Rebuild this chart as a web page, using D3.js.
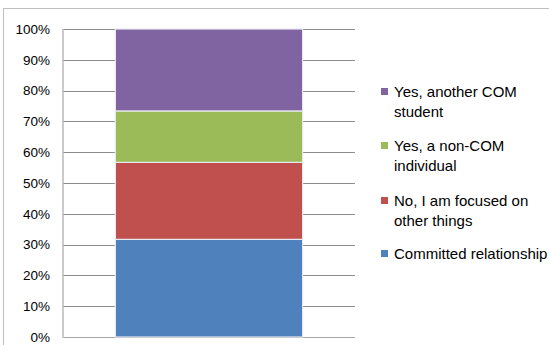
<!DOCTYPE html>
<html>
<head>
<meta charset="utf-8">
<script src="https://cdn.jsdelivr.net/npm/d3@7"></script>
<style>
  html, body { margin: 0; padding: 0; background: #fff; }
  svg { display: block; font-family: "Liberation Sans", Arial, sans-serif; }
</style>
</head>
<body>
<svg id="chart" width="549" height="345"></svg>
<script>
// Stacked share of responses (percent), bottom to top
const categories = ["Committed relationship", "No, I am focused on other things", "Yes, a non-COM individual", "Yes, another COM student"];
const values = [31.7, 25.0, 16.7, 26.6];
const colors = ["#4f81bd", "#c0504d", "#9bbb59", "#8064a2"];
const legendLines = [
  ["Committed relationship"],
  ["No, I am focused on", "other things"],
  ["Yes, a non-COM", "individual"],
  ["Yes, another COM", "student"]
];
const tickValues = [0, 10, 20, 30, 40, 50, 60, 70, 80, 90, 100];

const svg = d3.select("#chart");

// outer chart frame
svg.append("rect")
  .attr("x", 3.5).attr("y", 8.5)
  .attr("width", 600).attr("height", 400)
  .attr("fill", "none").attr("stroke", "#bfbfbf").attr("stroke-width", 1);

const plot = { left: 63, right: 355, top: 29, bottom: 337 };

const y = d3.scaleLinear().domain([0, 100]).range([plot.bottom, plot.top]);
const x = d3.scaleBand().domain(["all"]).range([plot.left, plot.right]).paddingInner(0).paddingOuter(0.28);

// horizontal gridlines
svg.append("g")
  .selectAll("line")
  .data(tickValues)
  .join("line")
  .attr("x1", plot.left).attr("x2", plot.right)
  .attr("y1", d => Math.round(y(d)) + 0.5).attr("y2", d => Math.round(y(d)) + 0.5)
  .attr("stroke", d => d === 0 ? "#a6a6a6" : "#8c8c8c")
  .attr("stroke-width", 1);

// y axis line
svg.append("line")
  .attr("x1", plot.left).attr("x2", plot.left)
  .attr("y1", plot.top).attr("y2", plot.bottom + 1)
  .attr("stroke", "#b8b8b8").attr("stroke-width", 1.5);

// y tick labels
svg.append("g")
  .selectAll("text")
  .data(tickValues)
  .join("text")
  .attr("x", 50)
  .attr("y", d => y(d))
  .attr("dy", "0.36em")
  .attr("text-anchor", "end")
  .attr("font-size", 13.5)
  .attr("fill", "#000")
  .text(d => d + "%");

// stacked segments
let acc = 0;
const segs = values.map((v, i) => {
  const s = { y0: acc, y1: acc + v, color: colors[i] };
  acc += v;
  return s;
});

const bx = x("all"), bw = x.bandwidth();
svg.append("g")
  .selectAll("rect")
  .data(segs)
  .join("rect")
  .attr("x", bx)
  .attr("width", bw)
  .attr("y", d => y(d.y1))
  .attr("height", d => y(d.y0) - y(d.y1))
  .attr("fill", d => d.color)
  .attr("stroke", "#e8eaf0")
  .attr("stroke-width", 1.2);

// legend, top item first
const legendTop = [254, 201, 146, 92];
const lg = svg.append("g");
categories.forEach((c, i) => {
  const cy = legendTop[i];
  lg.append("rect")
    .attr("x", 381).attr("y", cy - 4)
    .attr("width", 7).attr("height", 7)
    .attr("fill", colors[i]);
  legendLines[i].forEach((line, j) => {
    lg.append("text")
      .attr("x", 394)
      .attr("y", cy + j * 20)
      .attr("dy", "0.36em")
      .attr("font-size", 15)
      .attr("fill", "#000")
      .text(line);
  });
});
</script>
</body>
</html>
